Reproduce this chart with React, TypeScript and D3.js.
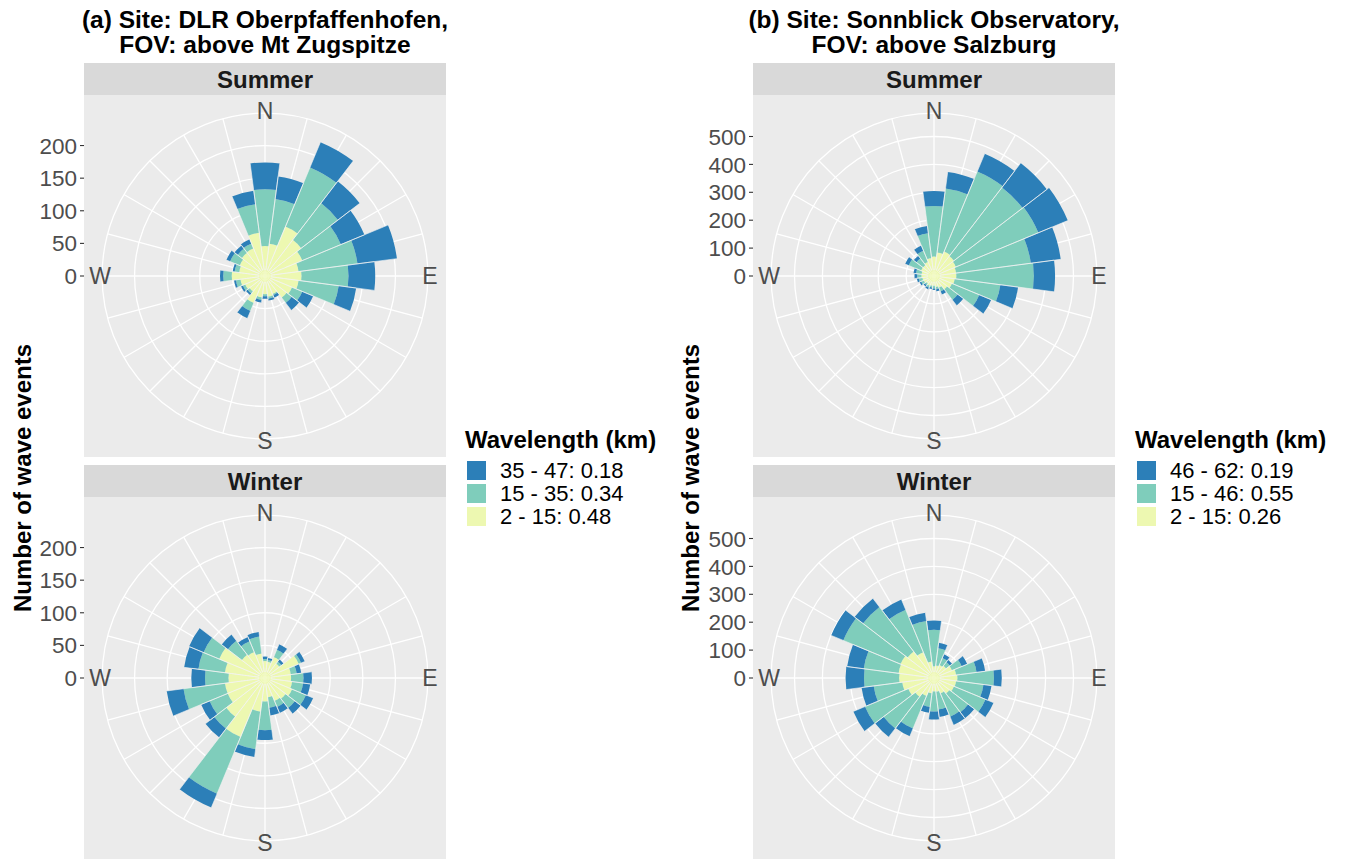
import React from 'react';
import * as d3 from 'd3';

// ---------- data ----------
const DIRECTIONS = [0, 15, 30, 45, 60, 75, 90, 105, 120, 135, 150, 165, 180, 195, 210, 225, 240, 255, 270, 285, 300, 315, 330, 345];
const COMPASS_DEGREES = [0, 90, 180, 270];
const COMPASS_LABELS = ['N', 'E', 'S', 'W'];
const SEASONS = ['Summer', 'Winter'];

// (a) DLR Oberpfaffenhofen — counts per direction bin, per wavelength class
const A_SUMMER_SHORT = [46, 50, 82, 70, 62, 52, 56, 52, 45, 42, 30, 32, 28, 33, 45, 30, 33, 38, 51, 40, 42, 45, 46, 67];
const A_SUMMER_MID = [87, 69, 98, 71, 64, 91, 72, 62, 17, 10, 2, 3, 3, 4, 13, 4, 4, 7, 13, 7, 16, 8, 8, 44];
const A_SUMMER_LONG = [41, 35, 42, 42, 39, 61, 41, 27, 18, 14, 4, 3, 4, 4, 12, 3, 3, 3, 5, 3, 6, 6, 7, 21];
const A_WINTER_SHORT = [26, 25, 35, 28, 56, 40, 40, 42, 45, 40, 38, 30, 36, 52, 98, 75, 62, 62, 56, 62, 76, 45, 43, 38];
const A_WINTER_MID = [3, 3, 12, 4, 4, 9, 19, 17, 23, 18, 10, 16, 44, 58, 94, 23, 30, 64, 36, 41, 26, 27, 18, 26];
const A_WINTER_LONG = [4, 3, 9, 4, 6, 7, 13, 11, 12, 11, 10, 12, 15, 12, 23, 17, 14, 26, 21, 22, 24, 12, 7, 7];

// (b) Sonnblick Observatory
const B_SUMMER_SHORT = [70, 85, 95, 90, 85, 80, 80, 75, 70, 60, 45, 40, 35, 35, 38, 35, 40, 42, 45, 45, 50, 50, 55, 65];
const B_SUMMER_MID = [181, 231, 310, 310, 320, 270, 278, 165, 106, 48, 15, 8, 10, 7, 7, 7, 10, 13, 15, 20, 48, 30, 43, 90];
const B_SUMMER_LONG = [54, 60, 69, 110, 114, 108, 76, 64, 46, 25, 12, 7, 5, 6, 7, 6, 6, 7, 10, 9, 14, 12, 20, 26];
const B_WINTER_SHORT = [42, 45, 50, 55, 70, 80, 84, 80, 78, 70, 60, 50, 48, 55, 70, 85, 100, 115, 125, 128, 130, 120, 100, 60];
const B_WINTER_MID = [131, 63, 28, 17, 38, 74, 131, 99, 122, 85, 90, 64, 72, 50, 126, 143, 168, 103, 126, 126, 222, 201, 165, 146];
const B_WINTER_LONG = [33, 19, 14, 10, 21, 31, 28, 29, 31, 27, 32, 27, 29, 21, 30, 38, 45, 44, 66, 60, 47, 38, 40, 30];

const A_LEGEND_LABELS = ['35 - 47: 0.18', '15 - 35: 0.34', '2 - 15: 0.48'];
const B_LEGEND_LABELS = ['46 - 62: 0.19', '15 - 46: 0.55', '2 - 15: 0.26'];
const A_TITLE = ['(a) Site: DLR Oberpfaffenhofen,', 'FOV: above Mt Zugspitze'];
const B_TITLE = ['(b) Site: Sonnblick Observatory,', 'FOV: above Salzburg'];
const LEGEND_TITLE = 'Wavelength (km)';
const Y_TITLE = 'Number of wave events';

// long, mid, short
const CLASS_COLORS = ['#2C7FB8', '#7FCDBB', '#EDF8B1'];

const FONT = "'Liberation Sans', Arial, Helvetica, sans-serif";
const PANEL = 362;
const STRIP_H = 32;

type Series = { short: number[]; mid: number[]; long: number[] };

function RosePanel({ x0, y0, season, series, rScale }: { x0: number; y0: number; season: string; series: Series; rScale: d3.ScaleLinear<number, number> }) {
  const cx = x0 + PANEL / 2;
  const cy = y0 + STRIP_H + PANEL / 2;
  const outerR = 0.45 * PANEL;
  const ticks = rScale.ticks(5);
  const half = (7.5 * Math.PI) / 180;
  const arc = d3.arc<any>();

  const bars = DIRECTIONS.map((dir, i) => {
    const s = series.short[i];
    const m = series.mid[i];
    const l = series.long[i];
    const a = (dir * Math.PI) / 180;
    const segs = [
      { r0: 0, r1: s, color: CLASS_COLORS[2] },
      { r0: s, r1: s + m, color: CLASS_COLORS[1] },
      { r0: s + m, r1: s + m + l, color: CLASS_COLORS[0] },
    ];
    return { a, segs, total: s + m + l };
  });

  return (
    <g>
      <rect x={x0} y={y0} width={PANEL} height={STRIP_H} fill="#D9D9D9" />
      <text x={cx} y={y0 + STRIP_H / 2 + 8.5} textAnchor="middle" fontFamily={FONT} fontWeight="bold" fontSize={24} fill="#1A1A1A">{season}</text>
      <rect x={x0} y={y0 + STRIP_H} width={PANEL} height={PANEL} fill="#EBEBEB" />
      <g transform={`translate(${cx},${cy})`}>
        {DIRECTIONS.map((dir) => {
          const a = (dir * Math.PI) / 180;
          return <line key={'sp' + dir} x1={0} y1={0} x2={outerR * Math.sin(a)} y2={-outerR * Math.cos(a)} stroke="#FFFFFF" strokeWidth={1.3} />;
        })}
        {ticks.filter((t) => t > 0).map((t) => (
          <circle key={'c' + t} r={rScale(t)} fill="none" stroke="#FFFFFF" strokeWidth={1.3} />
        ))}
        <circle r={outerR} fill="none" stroke="#FFFFFF" strokeWidth={1.3} />
        {bars.map((b, i) => (
          <g key={'b' + i}>
            {b.segs.map((sg, j) => (
              <path key={j} d={arc({ innerRadius: rScale(sg.r0), outerRadius: rScale(sg.r1), startAngle: b.a - half, endAngle: b.a + half }) as string} fill={sg.color} />
            ))}
          </g>
        ))}
        {bars.map((b, i) => {
          const R = rScale(b.total);
          const r0 = 6;
          return (
            <g key={'e' + i}>
              <line x1={r0 * Math.sin(b.a - half)} y1={-r0 * Math.cos(b.a - half)} x2={R * Math.sin(b.a - half)} y2={-R * Math.cos(b.a - half)} stroke="#F4F4F4" strokeWidth={0.6} />
              <line x1={r0 * Math.sin(b.a + half)} y1={-r0 * Math.cos(b.a + half)} x2={R * Math.sin(b.a + half)} y2={-R * Math.cos(b.a + half)} stroke="#F4F4F4" strokeWidth={0.6} />
            </g>
          );
        })}
        {COMPASS_DEGREES.map((deg, i) => {
          const a = (deg * Math.PI) / 180;
          const rr = outerR + 2;
          return (
            <text key={'t' + deg} x={rr * Math.sin(a)} y={-rr * Math.cos(a)} dy="0.36em" textAnchor="middle" fontFamily={FONT} fontSize={23} fill="#4D4D4D">{COMPASS_LABELS[i]}</text>
          );
        })}
      </g>
      {ticks.map((t) => (
        <g key={'yt' + t}>
          <line x1={x0 - 4} x2={x0} y1={cy - rScale(t)} y2={cy - rScale(t)} stroke="#333333" strokeWidth={1.1} />
          <text x={x0 - 7} y={cy - rScale(t)} dy="0.36em" textAnchor="end" fontFamily={FONT} fontSize={22.5} fill="#4D4D4D">{t}</text>
        </g>
      ))}
    </g>
  );
}

function Figure({ x0, title, summer, winter, legendLabels, legendX, yTitleX }: { x0: number; title: string[]; summer: Series; winter: Series; legendLabels: string[]; legendX: number; yTitleX: number }) {
  const totals = [summer, winter].flatMap((s) => s.short.map((v, i) => v + s.mid[i] + s.long[i]));
  const maxTotal = d3.max(totals) as number;
  const rScale = d3.scaleLinear().domain([0, maxTotal]).range([0, 0.4 * PANEL]);
  const cx = x0 + PANEL / 2;
  return (
    <g>
      <text x={cx} y={28} textAnchor="middle" fontFamily={FONT} fontWeight="bold" fontSize={24.5} fill="#000">{title[0]}</text>
      <text x={cx} y={53} textAnchor="middle" fontFamily={FONT} fontWeight="bold" fontSize={24.5} fill="#000">{title[1]}</text>
      <RosePanel x0={x0} y0={63} season={SEASONS[0]} series={summer} rScale={rScale} />
      <RosePanel x0={x0} y0={465} season={SEASONS[1]} series={winter} rScale={rScale} />
      <text transform={`translate(${yTitleX},478) rotate(-90)`} textAnchor="middle" dy="0.36em" fontFamily={FONT} fontWeight="bold" fontSize={24} fill="#000">{Y_TITLE}</text>
      <text x={legendX - 2} y={448} fontFamily={FONT} fontWeight="bold" fontSize={24} fill="#000">{LEGEND_TITLE}</text>
      {legendLabels.map((lab, i) => (
        <g key={lab}>
          <rect x={legendX} y={461 + i * 23} width={19} height={19} fill={CLASS_COLORS[i]} />
          <text x={legendX + 33} y={461 + i * 23 + 9.5} dy="0.36em" fontFamily={FONT} fontSize={22} fill="#000">{lab}</text>
        </g>
      ))}
    </g>
  );
}

export default function App() {
  const aSummer = { short: A_SUMMER_SHORT, mid: A_SUMMER_MID, long: A_SUMMER_LONG };
  const aWinter = { short: A_WINTER_SHORT, mid: A_WINTER_MID, long: A_WINTER_LONG };
  const bSummer = { short: B_SUMMER_SHORT, mid: B_SUMMER_MID, long: B_SUMMER_LONG };
  const bWinter = { short: B_WINTER_SHORT, mid: B_WINTER_MID, long: B_WINTER_LONG };
  return (
    <svg width={1348} height={860} style={{ position: 'absolute', left: 0, top: 0, background: '#FFFFFF' }}>
      <rect width={1348} height={860} fill="#FFFFFF" />
      <Figure x0={84} title={A_TITLE} summer={aSummer} winter={aWinter} legendLabels={A_LEGEND_LABELS} legendX={467} yTitleX={22} />
      <Figure x0={753} title={B_TITLE} summer={bSummer} winter={bWinter} legendLabels={B_LEGEND_LABELS} legendX={1137} yTitleX={690} />
    </svg>
  );
}
